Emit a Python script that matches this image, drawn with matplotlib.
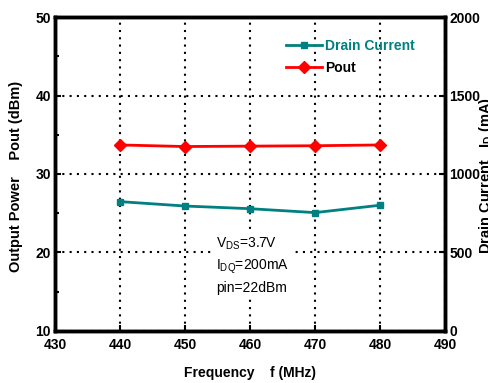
import matplotlib.pyplot as plt
import matplotlib as mpl

mpl.rcParams["font.family"] = ["Liberation Sans", "DejaVu Sans"]
mpl.rcParams["font.size"] = 10
mpl.rcParams["mathtext.default"] = "regular"

freq = [440, 450, 460, 470, 480]
pout = [33.7, 33.5, 33.55, 33.6, 33.7]
drain = [824, 796, 779, 754, 801]

teal = "#008080"
red = "#ff0000"

fig = plt.figure(figsize=(4.88, 3.83), dpi=100)
ax = fig.add_axes([0.1127, 0.1358, 0.7992, 0.8198])
ax2 = ax.twinx()

ln2, = ax2.plot(freq, drain, color=teal, lw=2, marker="s", ms=5,
                label="Drain Current")
ln1, = ax.plot(freq, pout, color=red, lw=2, marker="D", ms=6,
               label="Pout")

ax.set_xlim(430, 490)
ax.set_ylim(10, 50)
ax2.set_ylim(0, 2000)
ax.set_xticks(range(430, 491, 10))
ax.set_yticks(range(10, 51, 10))
ax.set_yticks(range(15, 50, 10), minor=True)
ax2.set_yticks(range(0, 2001, 500))

ax.grid(True, which="major", color="black", ls=(0, (1, 2.5)), lw=1.5)

for a in (ax, ax2):
    for s in a.spines.values():
        s.set_linewidth(2.5)
    a.tick_params(direction="in", width=1.5, length=4, pad=3)
    a.tick_params(which="minor", direction="in", width=1.5, length=3)
    for lab in a.get_xticklabels() + a.get_yticklabels():
        lab.set_fontweight("bold")
ax.tick_params(axis="x", pad=5)

ax.set_xlabel("Frequency    f (MHz)", fontweight="bold", labelpad=10)
fig.text(0.033, 0.54, "Output Power    Pout (dBm)", rotation=90,
         fontweight="bold", ha="center", va="center", fontsize=10.5)
fig.text(0.995, 0.543, "Drain Current   I$_D$ (mA)", rotation=90,
         fontweight="bold", ha="center", va="center", fontsize=10.5)

ax2.text(454.8, 18.4, "V$_{DS}$=3.7V\nI$_{DQ}$=200mA\npin=22dBm",
         transform=ax.transData, fontsize=10, va="center", ha="left",
         linespacing=1.45, zorder=5,
         bbox=dict(facecolor="white", edgecolor="none", pad=1))

leg = ax2.legend([ln2, ln1], ["Drain Current", "Pout"], loc="upper left",
                 bbox_to_anchor=(0.56, 0.97), frameon=False, handlelength=2.6,
                 handletextpad=0.2, labelspacing=0.6,
                 prop={"weight": "bold", "size": 10})
leg.get_texts()[0].set_color(teal)

fig.savefig("out.png", dpi=100)
